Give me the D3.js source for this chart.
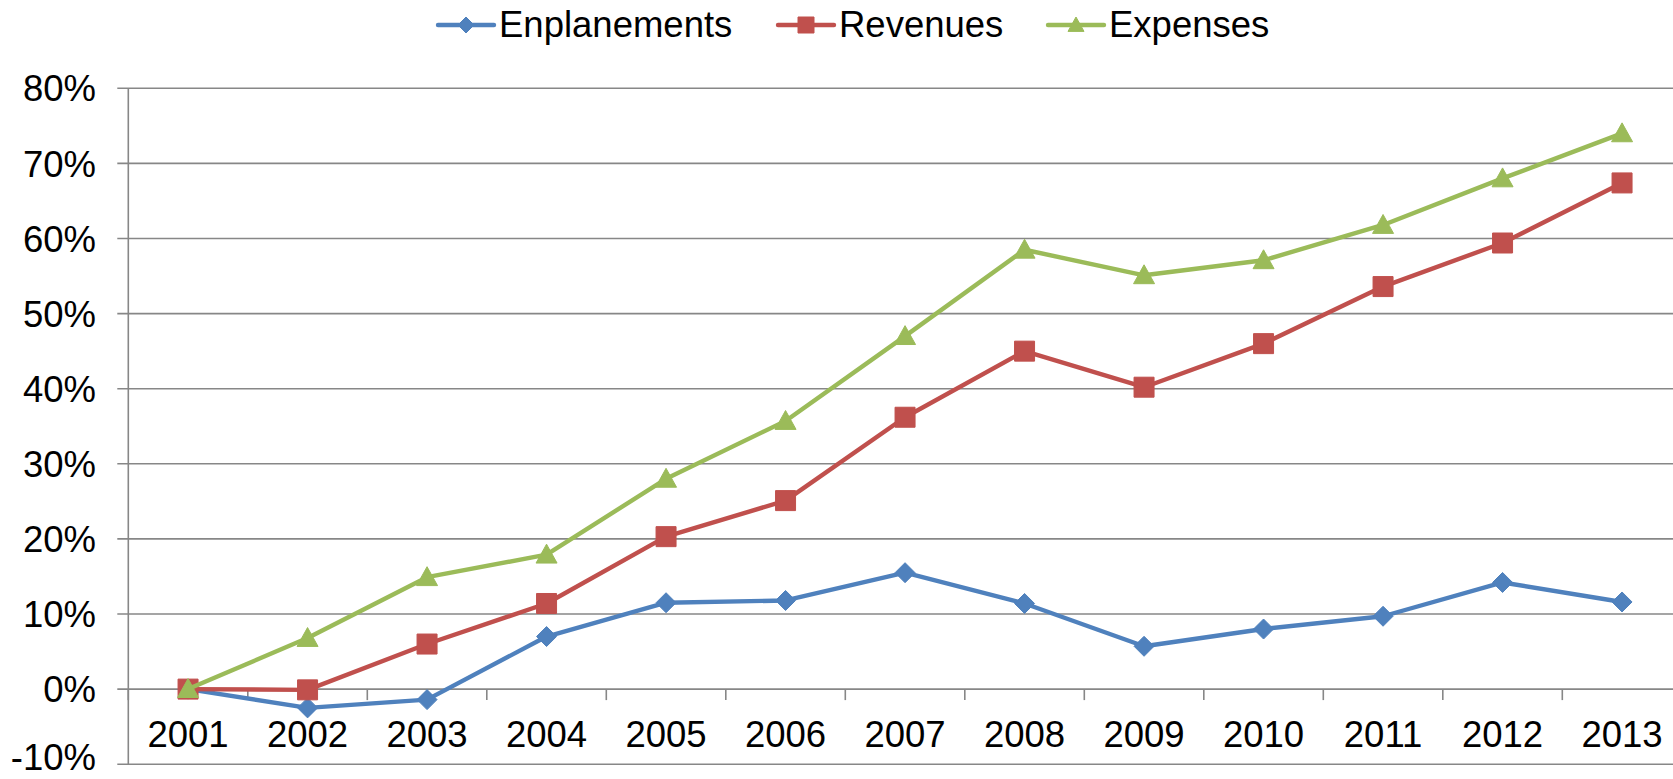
<!DOCTYPE html>
<html>
<head>
<meta charset="utf-8">
<script src="https://cdn.jsdelivr.net/npm/d3@7"></script>
<style>
  html, body { margin: 0; padding: 0; background: #fff; }
  svg { display: block; }
  text { font-family: "Liberation Sans", Arial, sans-serif; fill: #000; }
</style>
</head>
<body>
<svg id="chart" width="1673" height="779"></svg>
<script>
const years = ["2001","2002","2003","2004","2005","2006","2007","2008","2009","2010","2011","2012","2013"];
const enplanements = [0, -2.5, -1.4, 7.0, 11.5, 11.8, 15.5, 11.4, 5.7, 8.0, 9.7, 14.2, 11.6];
const revenues = [0, -0.1, 6.0, 11.4, 20.3, 25.1, 36.2, 45.0, 40.2, 46.0, 53.6, 59.4, 67.4];
const expenses = [0, 6.8, 14.9, 17.9, 28.0, 35.7, 47.0, 58.5, 55.1, 57.1, 61.8, 68.0, 74.0];
const yTicks = [-10, 0, 10, 20, 30, 40, 50, 60, 70, 80];
const seriesNames = ["Enplanements", "Revenues", "Expenses"];
const seriesColors = ["#4F81BD", "#C0504D", "#9BBB59"];
const seriesShapes = ["diamond", "square", "triangle"];

const series = [enplanements, revenues, expenses].map((vals, i) => ({
  name: seriesNames[i], color: seriesColors[i], shape: seriesShapes[i], values: vals
}));

const svg = d3.select("#chart");
const left = 128.3, band = 119.5;
const x = d3.scaleBand().domain(years).range([left, left + band * years.length]).paddingInner(0).paddingOuter(0);
const y = d3.scaleLinear().domain([-10, 80]).range([764.2, 88.3]);
const gridColor = "#878787";

// gridlines + y ticks
const gy = svg.append("g");
gy.selectAll("line.grid").data(yTicks).enter().append("line")
  .attr("x1", left - 11).attr("x2", 1690)
  .attr("y1", d => y(d)).attr("y2", d => y(d))
  .attr("stroke", gridColor).attr("stroke-width", 1.6);
gy.selectAll("text").data(yTicks).enter().append("text")
  .attr("x", 96).attr("y", d => Math.min(y(d), 757)).attr("dy", "0.36em")
  .attr("text-anchor", "end").attr("font-size", 36.5)
  .text(d => d + "%");
// y axis line
svg.append("line").attr("x1", left).attr("x2", left)
  .attr("y1", y(80)).attr("y2", y(-10))
  .attr("stroke", gridColor).attr("stroke-width", 1.6);

// x axis at 0 with ticks
const boundaries = d3.range(years.length + 1).map(i => left + i * band);
svg.append("g").selectAll("line").data(boundaries).enter().append("line")
  .attr("x1", d => d).attr("x2", d => d)
  .attr("y1", y(0)).attr("y2", y(0) + 11)
  .attr("stroke", gridColor).attr("stroke-width", 1.6);
svg.append("g").selectAll("text").data(years).enter().append("text")
  .attr("x", d => x(d) + x.bandwidth() / 2).attr("y", 746.5)
  .attr("text-anchor", "middle").attr("font-size", 36.5)
  .text(d => d);

function drawMarker(g, shape, cx, cy, color, size) {
  const h = size / 2;
  let p;
  if (shape === "diamond") p = `M${cx},${cy - h}L${cx + h},${cy}L${cx},${cy + h}L${cx - h},${cy}Z`;
  else if (shape === "square") p = `M${cx - h},${cy - h}H${cx + h}V${cy + h}H${cx - h}Z`;
  else p = `M${cx},${cy - h * 1.0}L${cx + h},${cy + h * 0.8}L${cx - h},${cy + h * 0.8}Z`;
  g.append("path").attr("d", p).attr("fill", color).attr("stroke", color).attr("stroke-width", 1).attr("stroke-linejoin", "round");
}

const line = d3.line().x((d, i) => x(years[i]) + x.bandwidth() / 2).y(d => y(d));
series.forEach(s => {
  const g = svg.append("g");
  g.append("path").attr("d", line(s.values)).attr("fill", "none")
    .attr("stroke", s.color).attr("stroke-width", 4.4).attr("stroke-linejoin", "round").attr("stroke-linecap", "round");
  s.values.forEach((v, i) => {
    drawMarker(g, s.shape, x(years[i]) + x.bandwidth() / 2, y(v), s.color, s.shape === "triangle" ? 21 : 20);
  });
});

// legend
const legendX = [438, 778, 1048];
const leg = svg.append("g");
series.forEach((s, i) => {
  const lx = legendX[i], ly = 25;
  leg.append("line").attr("x1", lx).attr("x2", lx + 56).attr("y1", ly).attr("y2", ly)
    .attr("stroke", s.color).attr("stroke-width", 4.4).attr("stroke-linecap", "round");
  drawMarker(leg, s.shape, lx + 28, ly, s.color, 16);
  leg.append("text").attr("x", lx + 61).attr("y", 37).attr("font-size", 36.5).text(s.name);
});
</script>
</body>
</html>
